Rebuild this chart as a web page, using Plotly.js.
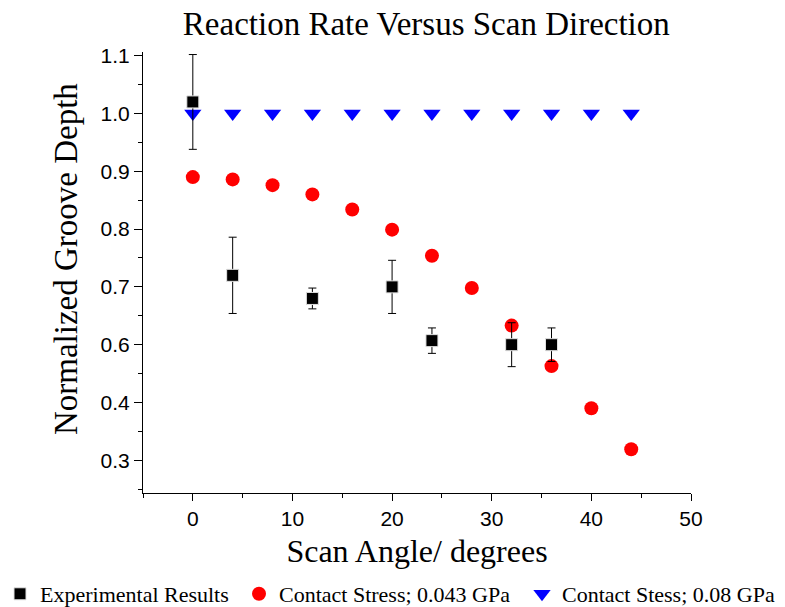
<!DOCTYPE html>
<html>
<head>
<meta charset="utf-8">
<script src="https://cdn.plot.ly/plotly-3.0.1.min.js"></script>
<style>html,body{margin:0;padding:0;background:#fff;}#chart{width:785px;height:607px;}</style>
</head>
<body>
<div id="chart"></div>
<script>
// Data (y in the axis' linear coordinates)
var angles = [0, 4, 8, 12, 16, 20, 24, 28, 32, 36, 40, 44];
var stress043 = [0.89, 0.886, 0.876, 0.86, 0.834, 0.799, 0.754, 0.698, 0.633, 0.563, 0.49, 0.419];
var stress08 = [1.0, 1.0, 1.0, 1.0, 1.0, 1.0, 1.0, 1.0, 1.0, 1.0, 1.0, 1.0];
var expAngles = [0, 4, 12, 20, 24, 32, 36];
var expValues = [1.02, 0.72, 0.68, 0.70, 0.607, 0.60, 0.60];
var expErrors = [0.082, 0.066, 0.018, 0.046, 0.022, 0.038, 0.029];
var xTickVals = [0, 10, 20, 30, 40, 50];
var xMinorVals = [-5, 5, 15, 25, 35, 45];
var yTickVals = [1.1, 1.0, 0.9, 0.8, 0.7, 0.6, 0.5, 0.4];
var yTickText = ['1.1', '1.0', '0.9', '0.8', '0.7', '0.6', '0.4', '0.3'];
var yMinorVals = [1.05, 0.95, 0.85, 0.75, 0.65, 0.55, 0.45, 0.35];
var seriesNames = ['Experimental Results', 'Contact Stress; 0.043 GPa', 'Contact Stess; 0.08 GPa'];
var yTitleText = 'Normalized Groove Depth';

var serif = 'Liberation Serif, Times New Roman, serif';
var sans = 'Liberation Sans, Arial, sans-serif';

var traces = [
  {
    x: angles, y: stress043, name: seriesNames[1], type: 'scatter', mode: 'markers',
    legend: 'legend2',
    marker: {symbol: 'circle', size: 14, color: '#ff0000'}
  },
  {
    x: angles, y: stress08, name: seriesNames[2], type: 'scatter', mode: 'markers',
    legend: 'legend3',
    marker: {symbol: 'triangle-down', size: 15, color: '#0000ff'}
  },
  {
    x: expAngles, y: expValues, name: seriesNames[0], type: 'scatter', mode: 'markers',
    legend: 'legend',
    marker: {symbol: 'square', size: 12, color: '#000000', line: {color: '#e0e0e0', width: 1}},
    error_y: {type: 'data', array: expErrors, visible: true, color: '#000000', thickness: 1, width: 4}
  }
];

function legendAt(px) {
  return {
    orientation: 'h', xref: 'container', x: px / 785, xanchor: 'left',
    yref: 'paper', y: -0.229, yanchor: 'middle',
    font: {family: serif, size: 22, color: '#000'},
    bgcolor: 'rgba(0,0,0,0)', borderwidth: 0
  };
}

var layout = {
  width: 785, height: 607,
  paper_bgcolor: '#ffffff', plot_bgcolor: '#ffffff',
  margin: {l: 143, r: 94, t: 52, b: 114, autoexpand: false},
  title: {
    text: 'Reaction Rate Versus Scan Direction',
    font: {family: serif, size: 33, color: '#000'},
    xref: 'paper', x: 0.517, xanchor: 'center',
    yref: 'container', y: 0.961, yanchor: 'middle'
  },
  xaxis: {
    range: [-5, 50],
    tickvals: xTickVals,
    ticks: 'outside', ticklen: 7, tickwidth: 1, tickcolor: '#000',
    minor: {tickvals: xMinorVals, ticks: 'outside', ticklen: 4, tickcolor: '#000', showgrid: false},
    showline: true, linecolor: '#000', linewidth: 1, mirror: false,
    showgrid: false, zeroline: false, automargin: false,
    tickfont: {family: sans, size: 21, color: '#000'},
    title: {text: 'Scan Angle/ degrees', font: {family: serif, size: 32, color: '#000'}, standoff: 10}
  },
  yaxis: {
    range: [0.3434, 1.1064],
    tickvals: yTickVals, ticktext: yTickText,
    ticks: 'outside', ticklen: 8, tickwidth: 1, tickcolor: '#000',
    minor: {tickvals: yMinorVals, ticks: 'outside', ticklen: 4, tickcolor: '#000', showgrid: false},
    showline: true, linecolor: '#000', linewidth: 1, mirror: false,
    showgrid: false, zeroline: false, automargin: false,
    tickfont: {family: sans, size: 21, color: '#000'}
  },
  annotations: [{
    text: yTitleText, textangle: -90, showarrow: false,
    xref: 'paper', x: -0.1405, xanchor: 'center',
    yref: 'paper', y: 0.5306, yanchor: 'middle',
    font: {family: serif, size: 33, color: '#000'}
  }],
  showlegend: true,
  legend: legendAt(0),
  legend2: legendAt(239),
  legend3: legendAt(522)
};

Plotly.newPlot('chart', traces, layout, {displayModeBar: false, staticPlot: true});
</script>
</body>
</html>
